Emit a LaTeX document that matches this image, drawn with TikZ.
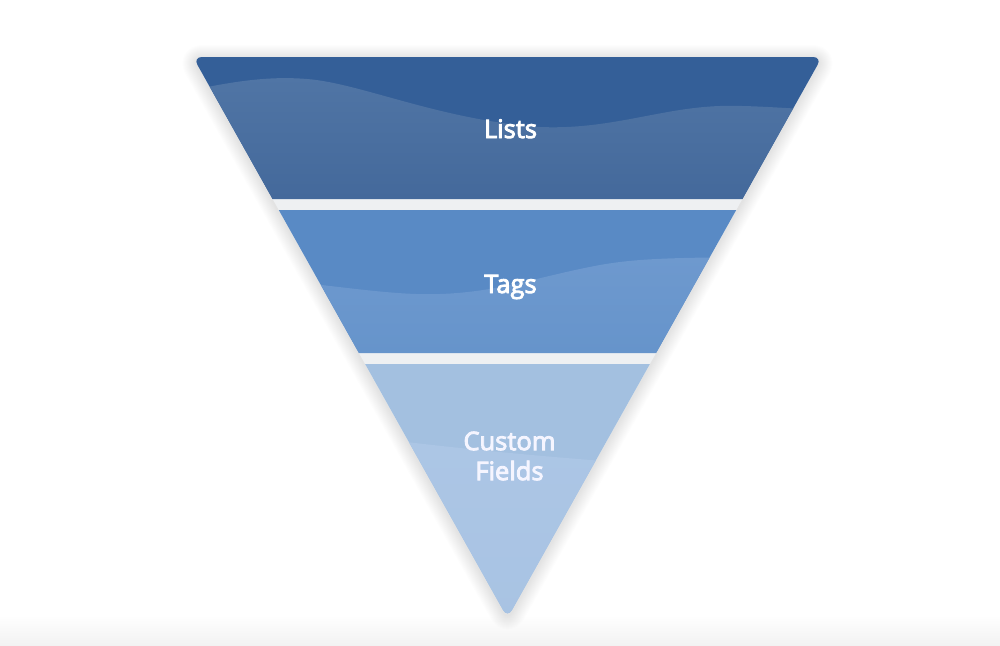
\documentclass[tikz,border=0pt]{standalone}
\usepackage{fontspec}
\newfontfamily\lblfont{Open Sans}[FakeBold=3.5]
\definecolor{bandAtop}{RGB}{52,95,152}
\definecolor{waveAtop}{RGB}{80,117,165}
\definecolor{waveAbot}{RGB}{68,105,155}
\definecolor{bandB}{RGB}{89,138,197}
\definecolor{waveBtop}{RGB}{110,153,206}
\definecolor{waveBbot}{RGB}{102,148,203}
\definecolor{bandC}{RGB}{163,192,224}
\definecolor{waveCtop}{RGB}{172,198,229}
\definecolor{waveCbot}{RGB}{168,195,227}
\definecolor{gapgray}{RGB}{238,240,242}
\begin{document}
\begin{tikzpicture}[x=1pt,y=-1pt,
  lbl/.style={text=white, font=\lblfont\fontsize{25.5}{30}\selectfont, inner sep=0pt, align=center},
  funnel/.style={rounded corners=9pt}]
\useasboundingbox (0,0) rectangle (1000,645);
\fill[white] (0,0) rectangle (1000,645);
\shade[top color=white, bottom color=black!5] (0,615) rectangle (1000,645);
% soft shadow
\foreach \w in {2,4,...,28}
  \draw[funnel, line join=round, black, opacity=0.006, line width=\w pt] (193,59) -- (822,59) -- (507.5,620) -- cycle;
\fill[funnel, gapgray] (193,57) -- (822,57) -- (507.5,618) -- cycle;
\begin{scope}
  \clip[rounded corners=9pt] (193,57) -- (822,57) -- (507.5,618) -- cycle;
  % band 1
  \fill[bandAtop] (150,50) rectangle (870,199);
  \shade[top color=waveAtop, bottom color=waveAbot]
    (150,100) .. controls (230,80) and (270,76) .. (307,79)
    .. controls (360,83) and (440,120) .. (540,127)
    .. controls (610,130) and (660,108) .. (720,106)
    .. controls (760,105) and (800,110) .. (870,112)
    -- (870,199) -- (150,199) -- cycle;
  % band 2
  \fill[bandB] (150,210) rectangle (870,353);
  \shade[top color=waveBtop, bottom color=waveBbot]
    (250,278) .. controls (330,284) and (390,296) .. (440,294)
    .. controls (500,292) and (540,276) .. (600,265)
    .. controls (640,258) and (680,256) .. (870,258)
    -- (870,353) -- (250,353) -- cycle;
  % band 3
  \fill[bandC] (150,364) rectangle (870,630);
  \shade[top color=waveCtop, bottom color=waveCbot]
    (350,435) .. controls (450,448) and (550,458) .. (700,468)
    -- (700,630) -- (350,630) -- cycle;
\end{scope}
\node[lbl, anchor=base] (lists) at (510.5,138) {Lists};
\node[lbl, anchor=base] (tags) at (510.5,293) {Tags};
\node[lbl, text=white!96!blue] (fields) at (509.5,456) {Custom\\Fields};
\end{tikzpicture}
\end{document}
